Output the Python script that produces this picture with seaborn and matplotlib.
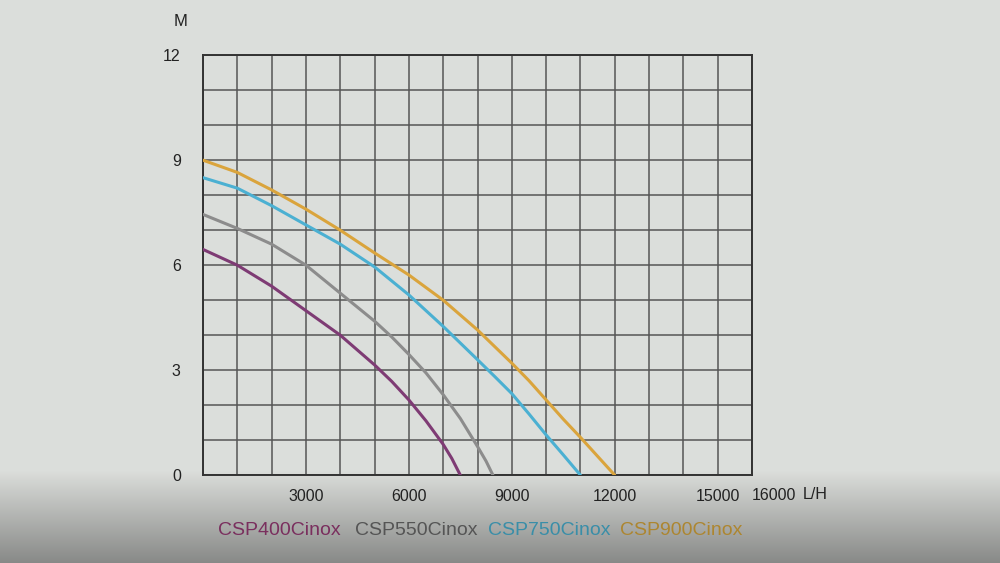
import numpy as np
import pandas as pd
import seaborn as sns
import matplotlib.pyplot as plt

# Pump curves: flow (L/H) vs head (M)
flow_400 = [0, 1000, 2000, 3000, 4000, 5000, 5500, 6000, 6500, 7000, 7250, 7500]
head_400 = [6.45, 6.0, 5.4, 4.7, 4.0, 3.15, 2.68, 2.15, 1.55, 0.88, 0.48, 0.0]

flow_550 = [0, 1000, 2000, 3000, 4000, 5000, 5500, 6000, 6500, 7000, 7500, 8000, 8250, 8450]
head_550 = [7.45, 7.05, 6.6, 6.0, 5.2, 4.4, 3.95, 3.45, 2.92, 2.3, 1.62, 0.82, 0.4, 0.0]

flow_750 = [0, 1000, 2000, 3000, 4000, 5000, 6000, 7000, 8000, 8500, 9000, 9500, 10000, 10500, 11000]
head_750 = [8.5, 8.2, 7.7, 7.15, 6.6, 5.95, 5.15, 4.25, 3.3, 2.82, 2.33, 1.75, 1.15, 0.58, 0.0]

flow_900 = [0, 1000, 2000, 3000, 4000, 5000, 6000, 7000, 8000, 9000, 9500, 10000, 10500, 11000, 11500, 12000]
head_900 = [9.0, 8.65, 8.15, 7.6, 7.0, 6.35, 5.72, 5.0, 4.15, 3.2, 2.7, 2.15, 1.6, 1.08, 0.54, 0.0]

models = ["CSP400Cinox", "CSP550Cinox", "CSP750Cinox", "CSP900Cinox"]
line_colors = ["#7e3b74", "#8c8c8c", "#4bb0d2", "#daa43c"]
label_colors = ["#7a2f5e", "#555555", "#3a8ea8", "#ad8630"]

x_labels = ["3000", "6000", "9000", "12000", "15000"]
y_labels = ["0", "3", "6", "9", "12"]

df = pd.concat([
    pd.DataFrame({"flow": f, "head": h, "model": m})
    for f, h, m in zip([flow_400, flow_550, flow_750, flow_900],
                       [head_400, head_550, head_750, head_900], models)
])

sns.set_style("white")
plt.rcParams["font.family"] = ["Liberation Sans", "DejaVu Sans"]

fig = plt.figure(figsize=(10, 5.63), dpi=100)

# photo-like paper background
bg = fig.add_axes([0, 0, 1, 1], zorder=-5)
grad = np.ones(563)
grad[470:] = np.linspace(1.0, 0.62, 93)
shade = np.outer(grad, np.ones(10))
img = np.dstack([shade * 0.862, shade * 0.871, shade * 0.859])
bg.imshow(img, aspect="auto", extent=[0, 1, 0, 1])
bg.axis("off")

ax = fig.add_axes([0.203, 0.156, 0.549, 0.746])
ax.set_facecolor("none")

sns.lineplot(data=df, x="flow", y="head", hue="model", palette=line_colors,
             hue_order=models, legend=False, linewidth=2.2, ax=ax, zorder=3)

ax.set_xlim(0, 16000)
ax.set_ylim(0, 12)
ax.set_xticks(range(0, 16001, 1000))
ax.set_yticks(range(0, 13))
ax.set_xticklabels([str(v) if str(v) in x_labels else "" for v in range(0, 16001, 1000)])
ax.set_yticklabels([str(v) if str(v) in y_labels else "" for v in range(0, 13)])
ax.tick_params(length=0, labelsize=11.5, colors="#222222")
ax.tick_params(axis="x", pad=10)
ax.tick_params(axis="y", pad=16)
ax.grid(True, color="#555555", linewidth=1.1)
for s in ax.spines.values():
    s.set_color("#333333")
    s.set_linewidth(1.4)
ax.set_xlabel("")
ax.set_ylabel("")

ax.text(16000, -0.38, "16000", ha="left", va="top", fontsize=11.5, color="#222222")
fig.text(0.815, 0.122, "L/H", ha="center", va="center", fontsize=11.5, color="#222222")
fig.text(0.181, 0.962, "M", ha="center", va="center", fontsize=12, color="#222222")

for xpos, name, c in zip([0.218, 0.355, 0.488, 0.620], models, label_colors):
    fig.text(xpos, 0.058, name, ha="left", va="center", fontsize=14, color=c)

fig.savefig("out.png", dpi=100)
